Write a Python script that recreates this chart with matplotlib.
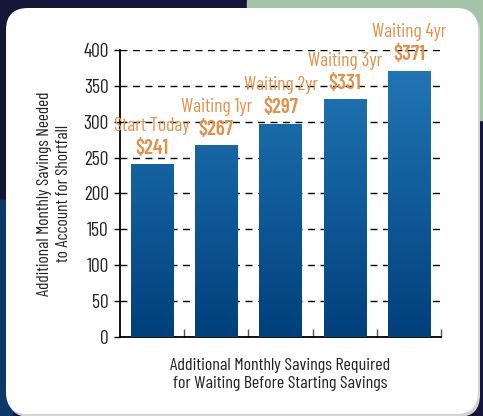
import numpy as np
import matplotlib
matplotlib.use('Agg')
import matplotlib.pyplot as plt
from matplotlib.patches import FancyBboxPatch, Rectangle
from matplotlib.colors import LinearSegmentedColormap

# Data
categories = ['Start Today', 'Waiting 1yr', 'Waiting 2yr', 'Waiting 3yr', 'Waiting 4yr']
values = [241, 267, 297, 331, 371]
yticks = [0, 50, 100, 150, 200, 250, 300, 350, 400]

plt.rcParams['font.family'] = ['Barlow Condensed', 'DejaVu Sans']

orange = '#e0924a'
text_col = '#222222'
fig = plt.figure(figsize=(4.83, 4.16), dpi=100)

# Background: dark navy with pale green top right, white rounded panel
bg = fig.add_axes([0, 0, 1, 1], zorder=-10)
bg.set_xlim(0, 483)
bg.set_ylim(416, 0)
bg.axis('off')
bg.add_patch(Rectangle((0, 0), 483, 416, color='#141638'))
bg.add_patch(Rectangle((247, 0), 236, 120, color='#a4c3a8'))
bg.add_patch(Rectangle((0, 200), 12, 216, color='#0b3a6a'))
bg.add_patch(FancyBboxPatch((8, 11), 472, 406, boxstyle='round,pad=0,rounding_size=22',
                            facecolor='#d4d4d4', edgecolor='none'))
bg.add_patch(FancyBboxPatch((6, 8), 472, 406, boxstyle='round,pad=0,rounding_size=22',
                            facecolor='white', edgecolor='none'))

ax = fig.add_axes([0.2484, 0.19, 0.665, 0.69])
ax.patch.set_alpha(0)
x = np.arange(len(categories))
bars = ax.bar(x, values, width=0.66, color='none', zorder=3)

# Gradient fill clipped to bars
cmap = LinearSegmentedColormap.from_list('blu', ['#00407c', '#2479b8'])
grad = np.linspace(0, 1, 256).reshape(-1, 1)
for b in bars:
    im = ax.imshow(grad, extent=(-0.5, 4.5, 0, 400), origin='lower', aspect='auto',
                   cmap=cmap, zorder=3)
    im.set_clip_path(b)

ax.set_xlim(-0.5, 4.5)
ax.set_ylim(0, 400)
ax.set_yticks(yticks)
ax.set_yticklabels([str(v) for v in yticks], fontsize=14, color=text_col)
ax.tick_params(axis='y', direction='out', length=4, width=1, pad=4)
ax.set_xticks(x + 0.5)
ax.set_xticklabels([])
ax.tick_params(axis='x', direction='in', length=6, width=1, color='#555555')
ax.grid(axis='y', color='black', linestyle=(0, (5, 4)), linewidth=1, zorder=1)
for s in ['top', 'right']:
    ax.spines[s].set_visible(False)
ax.spines['left'].set_linewidth(1.3)
ax.spines['bottom'].set_linewidth(1.3)

for xi, cat, v in zip(x, categories, values):
    ax.text(xi, v + 9, f'${v}', ha='center', va='bottom', fontsize=15,
            fontweight='semibold', color=orange, zorder=4)
    ax.text(xi, v + 41, cat, ha='center', va='bottom', fontsize=14,
            color=orange, zorder=4)

ax.set_ylabel('Additional Monthly Savings Needed\nto Account for Shortfall',
              fontsize=12.5, color=text_col, labelpad=9, linespacing=1.3)
ax.set_xlabel('Additional Monthly Savings Required\nfor Waiting Before Starting Savings',
              fontsize=13, color=text_col, labelpad=12, linespacing=1.2)

fig.savefig('out.png', dpi=100)
